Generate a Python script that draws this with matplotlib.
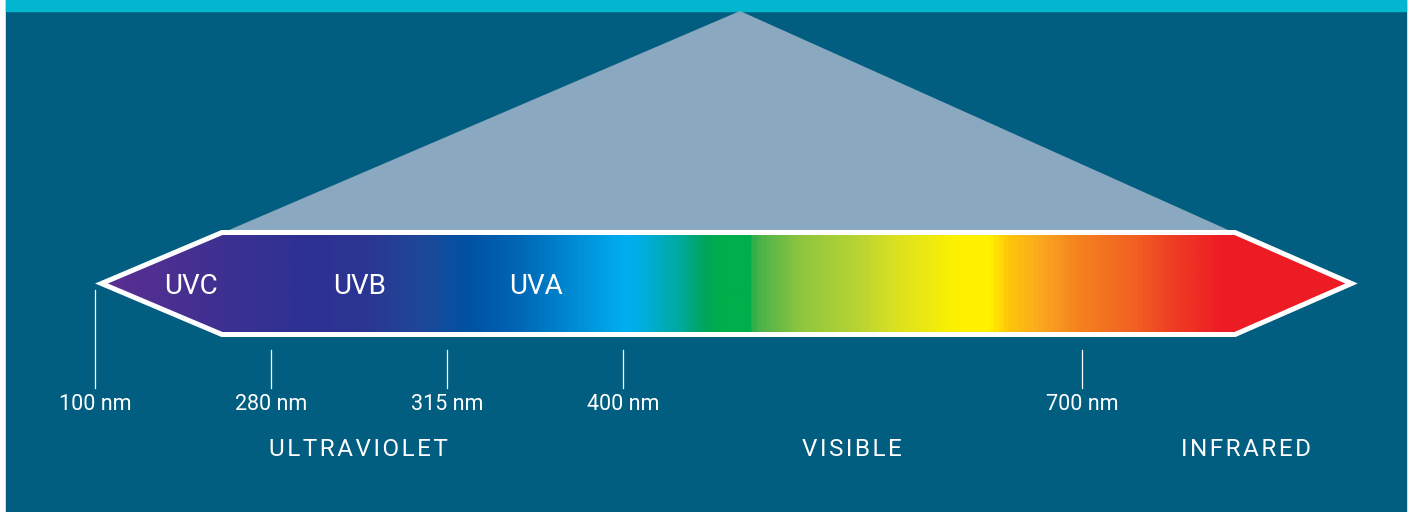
import numpy as np
import matplotlib
matplotlib.use("Agg")
import matplotlib.pyplot as plt
from matplotlib.patches import Polygon, Rectangle
from matplotlib.colors import LinearSegmentedColormap

# data
wavelengths = [100, 280, 315, 400, 700]
tick_labels = [f"{w} nm" for w in wavelengths]
bands = ["UVC", "UVB", "UVA"]
regions = ["ULTRAVIOLET", "VISIBLE", "INFRARED"]

# layout (pixel positions on the 1408x512 canvas)
tick_x = [95, 271, 447, 623, 1082]
band_x = [191, 360, 536]
region_x = [358, 852, 1246]

BG = "#025e80"
TOP = "#02b6cf"
TRI = "#8aa8bf"

# colour stops along the spectrum bar (pixel x, colour)
stops = [(94, "#5e2e91"), (230, "#3a3192"), (300, "#2e3192"), (360, "#2c3592"),
         (420, "#1f4899"), (467, "#0052a3"), (520, "#0067b5"), (580, "#0090d8"),
         (624, "#00aeef"), (632, "#00aeef"), (680, "#00a99d"), (705, "#00a55a"),
         (720, "#00ae4b"), (750, "#00ae4b"), (756, "#45b04a"), (800, "#8dc63f"),
         (860, "#b9d433"), (900, "#dde21f"), (960, "#fff200"), (990, "#fff200"),
         (1010, "#ffc60b"), (1040, "#fbaa1e"), (1080, "#f5821f"), (1130, "#f26522"),
         (1180, "#ee3a24"), (1225, "#ed1c24"), (1360, "#ed1c24")]


def main():
    plt.rcParams['font.family'] = ['Roboto', 'DejaVu Sans']
    fig = plt.figure(figsize=(14.08, 5.12), dpi=100, facecolor="white")
    ax = fig.add_axes([0, 0, 1, 1])
    ax.set_xlim(0, 1408)
    ax.set_ylim(512, 0)
    ax.axis("off")

    ax.add_patch(Rectangle((6, 0), 1400, 512, color=BG, zorder=0))
    ax.add_patch(Rectangle((6, 0), 1400, 11, color=TOP, zorder=1))

    # light cone above the spectrum
    ax.add_patch(Polygon([(222, 233), (740, 11), (1235, 233)], closed=True,
                         color=TRI, lw=0, zorder=1))

    # spectrum arrow
    x0, x1 = stops[0][0], stops[-1][0]
    pos = [(x - x0) / (x1 - x0) for x, _ in stops]
    cmap = LinearSegmentedColormap.from_list("spec", list(zip(pos, [c for _, c in stops])))
    shape = [(101.5, 283.5), (222, 232.5), (1235, 232.5), (1351.5, 283.5),
             (1235, 334.5), (222, 334.5)]
    outline = Polygon(shape, closed=True, facecolor="none", edgecolor="white",
                      lw=3.6, joinstyle="miter", zorder=4)
    clip = Polygon(shape, closed=True, transform=ax.transData)
    grad = np.linspace(0, 1, 1400).reshape(1, -1)
    im = ax.imshow(grad, cmap=cmap, aspect="auto", extent=(x0, x1, 340, 228),
                   interpolation="bilinear", zorder=3)
    im.set_clip_path(clip)
    ax.add_patch(outline)
    ax.set_xlim(0, 1408)
    ax.set_ylim(512, 0)

    for name, x in zip(bands, band_x):
        ax.text(x, 287, name, color="white", fontsize=20, ha="center", va="center", zorder=5)

    for i, (lab, x) in enumerate(zip(tick_labels, tick_x)):
        top = 290 if i == 0 else 350
        ax.plot([x, x], [top, 388], color="white", lw=0.9, zorder=5)
        ax.text(x, 404, lab, color="white", fontsize=15.5, ha="center", va="center", zorder=5)

    for name, x in zip(regions, region_x):
        spaced = "\u200a".join(name)
        ax.text(x, 449, spaced, color="white", fontsize=17.5, ha="center", va="center", zorder=5)

    fig.savefig("out.png", dpi=100, facecolor=fig.get_facecolor())


if __name__ == "__main__":
    main()
